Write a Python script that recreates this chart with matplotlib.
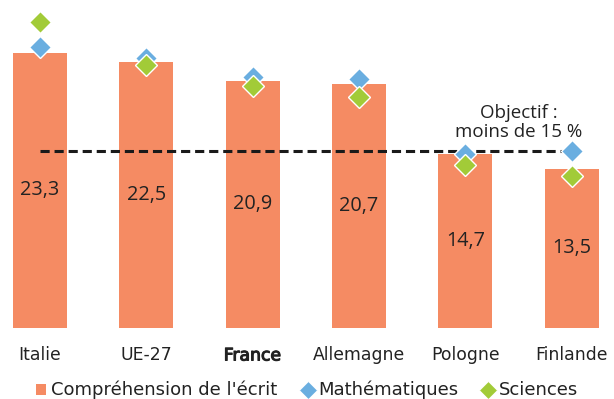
import matplotlib
matplotlib.use("Agg")
import matplotlib.pyplot as plt
import matplotlib.patheffects as pe
from matplotlib.lines import Line2D
from matplotlib.patches import Patch

# Share of low-achieving 15-year-olds (%), PISA 2018
countries = ["Italie", "UE-27", "France", "Allemagne", "Pologne", "Finlande"]
lecture = [23.3, 22.5, 20.9, 20.7, 14.7, 13.5]
maths = [23.8, 22.9, 21.3, 21.1, 14.7, 15.0]
sciences = [25.9, 22.3, 20.5, 19.6, 13.8, 12.9]
objectif = 15
series_labels = ["Compréhension de l'écrit", "Mathématiques", "Sciences"]
objectif_text = "Objectif :\nmoins de 15 %"

C_BAR = "#F58B63"
C_MATH = "#6AAEE0"
C_SCI = "#A2CB38"
C_TXT = "#222222"

plt.rcParams["font.family"] = ["DejaVu Sans"]
NUM_FONT = ["Open Sans", "DejaVu Sans"]

fig = plt.figure(figsize=(6.14, 3.99), dpi=100)
ax = fig.add_axes([0, 0.1787, 1, 0.8213])

x = list(range(len(countries)))
ax.bar(x, lecture, width=0.507, color=C_BAR, zorder=1)

# target line
ax.plot([x[0], x[-1]], [objectif, objectif], color="#1a1a1a", lw=2.2,
        ls=(0, (3, 1.6)), zorder=2)

ax.plot(x, maths, ls="none", marker="D", ms=11.2, color=C_MATH,
        mec="white", mew=1.0, zorder=3)
ax.plot(x, sciences, ls="none", marker="D", ms=11.2, color=C_SCI,
        mec="white", mew=1.0, zorder=4)

for xi, v in zip(x, lecture):
    ax.text(xi, v / 2, f"{v:.1f}".replace(".", ","), ha="center", va="center",
            fontsize=14.3, color=C_TXT, family=NUM_FONT, zorder=5)

ax.text(4.5, 17.4, objectif_text, ha="center", va="center", fontsize=13.5,
        color=C_TXT, linespacing=1.1, family=NUM_FONT, zorder=5)

ax.set_xlim(-0.374, 5.397)
ax.set_ylim(0, 27.79)
ax.set_xticks(x)
ax.set_xticklabels(countries, fontsize=12.4, color=C_TXT)
# France highlighted with a medium weight
ax.get_xticklabels()[2].set_path_effects(
    [pe.withStroke(linewidth=0.8, foreground=C_TXT)])
ax.tick_params(axis="x", length=0, pad=13.5)
ax.set_yticks([])
for s in ax.spines.values():
    s.set_visible(False)

handles = [
    Patch(facecolor=C_BAR, edgecolor="none"),
    Line2D([], [], ls="none", marker="D", ms=9, color=C_MATH, mec="white", mew=0.6),
    Line2D([], [], ls="none", marker="D", ms=9, color=C_SCI, mec="white", mew=0.6),
]
fig.legend(handles, series_labels, loc="center", bbox_to_anchor=(0.5, 0.022),
           ncol=3, frameon=False, fontsize=13, handlelength=0.55, handleheight=0.55,
           handletextpad=0.3, columnspacing=1.4, labelcolor=C_TXT,
           borderaxespad=0, borderpad=0)

fig.savefig("out.png", dpi=100)
